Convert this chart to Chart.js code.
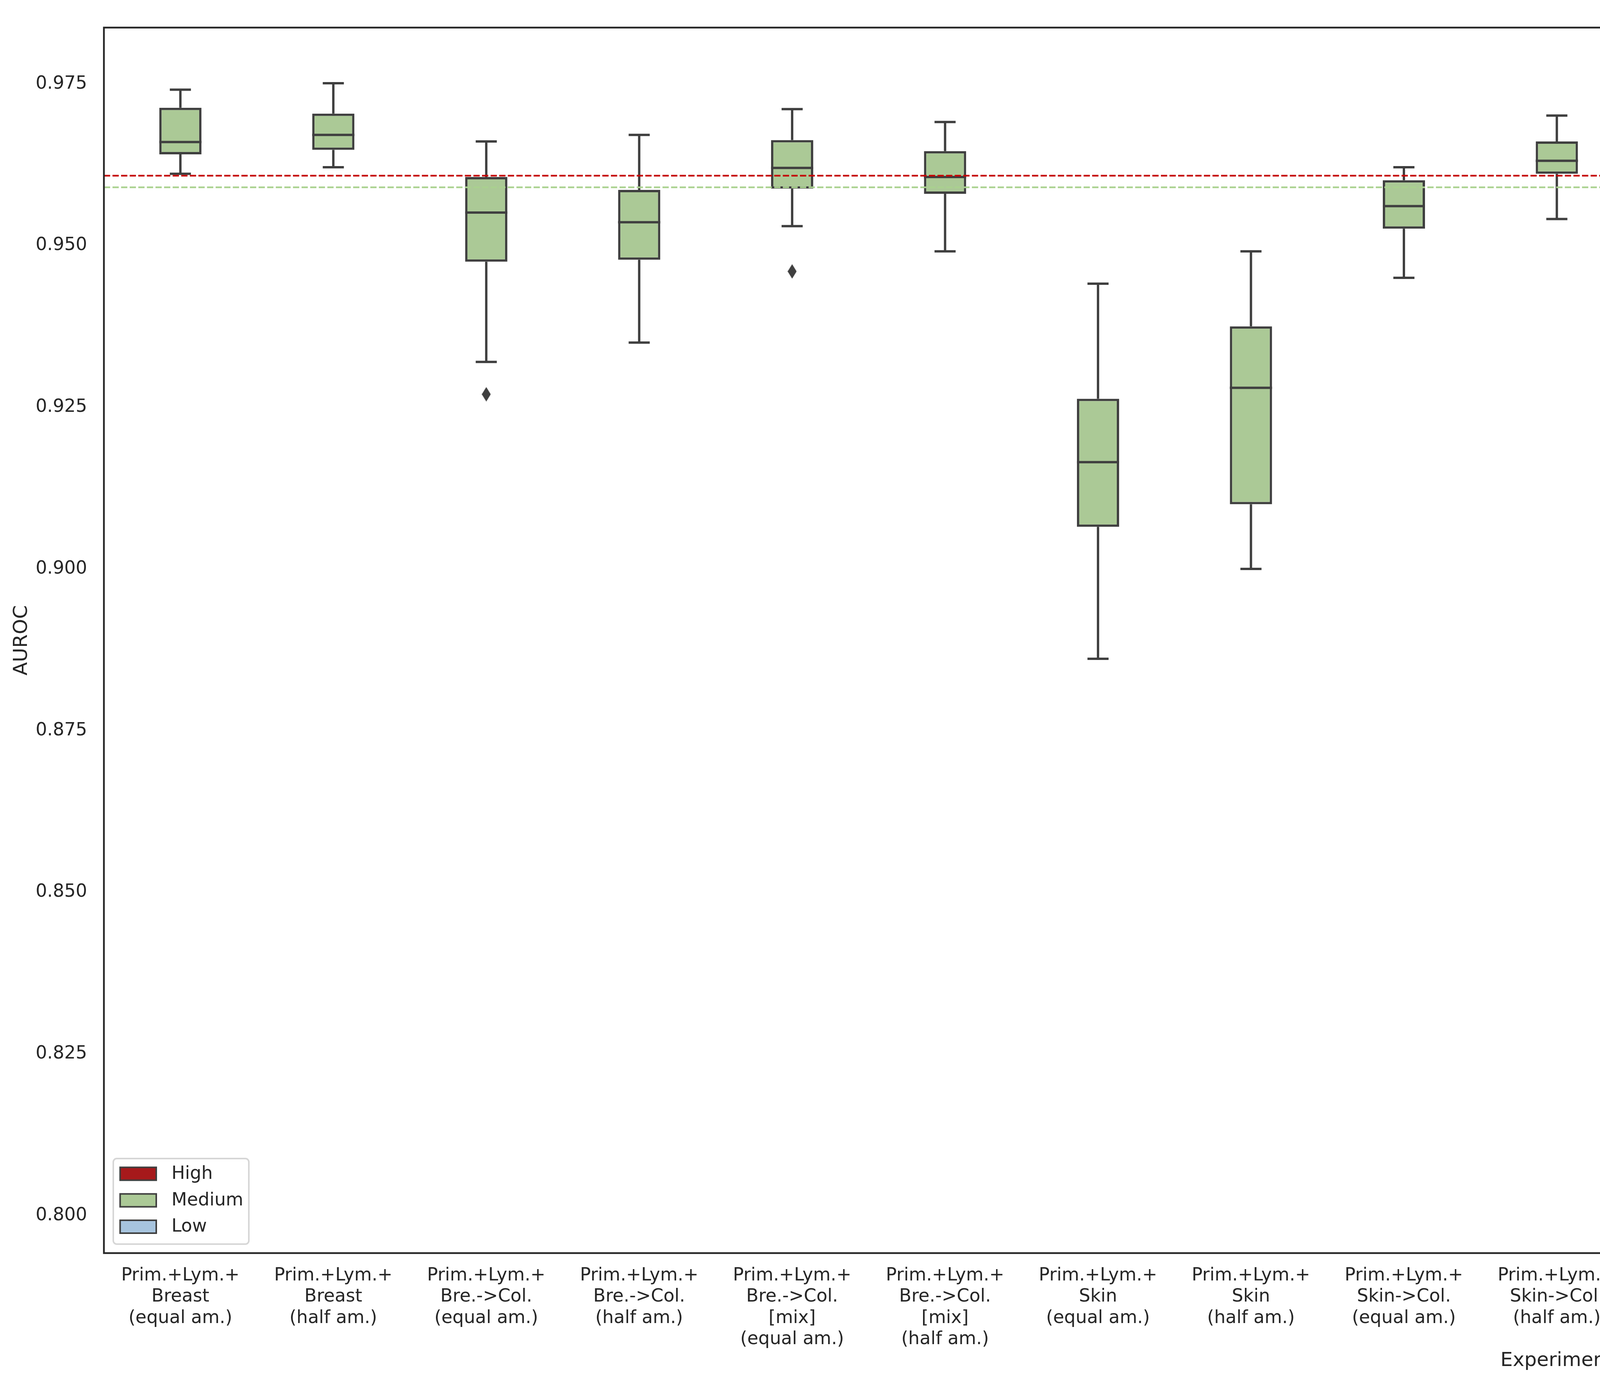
<!DOCTYPE html>
<html>
<head>
<meta charset="utf-8">
<script src="https://cdn.jsdelivr.net/npm/chart.js@4.4.0/dist/chart.umd.min.js"></script>
<style>
  html, body { margin: 0; padding: 0; background: #ffffff; }
  canvas { display: block; }
</style>
</head>
<body>
<canvas id="chart" width="7741" height="3542"></canvas>
<script>
// experiments on the x axis (multi-line labels)
const categories = [
  ["Prim.+Lym.+", "Breast", "(equal am.)"],
  ["Prim.+Lym.+", "Breast", "(half am.)"],
  ["Prim.+Lym.+", "Bre.->Col.", "(equal am.)"],
  ["Prim.+Lym.+", "Bre.->Col.", "(half am.)"],
  ["Prim.+Lym.+", "Bre.->Col.", "[mix]", "(equal am.)"],
  ["Prim.+Lym.+", "Bre.->Col.", "[mix]", "(half am.)"],
  ["Prim.+Lym.+", "Skin", "(equal am.)"],
  ["Prim.+Lym.+", "Skin", "(half am.)"],
  ["Prim.+Lym.+", "Skin->Col.", "(equal am.)"],
  ["Prim.+Lym.+", "Skin->Col.", "(half am.)"],
  ["Prim.+Lym.+", "Skin->Col.", "[mix]", "(equal am.)"],
  ["Prim.+Lym.+", "Skin->Col.", "[mix]", "(half am.)"],
  ["Prim.+Lym.+", "Prim.->Lym."],
  ["Prim.+Lym.+", "Prim.->Lym.", "(Breast", "non-tumor)"],
  ["Prim.+Lym.+", "Prim.->Lym.", "(Bre.->Col.", "non-tumor)"],
  ["Prim.+Lym.+", "Prim.->Lym.", "(Skin", "non-tumor)"],
  ["Prim.+Lym.+", "Prim.->Lym.", "(Skin->Col.", "non-tumor)"],
  ["Prim.->Lym.+", "Lymph"],
  ["Prim.->Lym."]
];

// box statistics (Medium)
const whiskerLow  = [0.9611, 0.9621, 0.9320, 0.9350, 0.9530, 0.9491, 0.8861, 0.9000, 0.9450, 0.9541, 0.8029, 0.8289, 0.9490, 0.9490, 0.9561, 0.8880, 0.9551, 0.9521, 0.9481];
const q1          = [0.9641, 0.9648, 0.9475, 0.9478, 0.9588, 0.9580, 0.9065, 0.9100, 0.9526, 0.9611, 0.8269, 0.8613, 0.9605, 0.9595, 0.9631, 0.9161, 0.9576, 0.9601, 0.9538];
const median      = [0.9660, 0.9671, 0.9551, 0.9536, 0.9620, 0.9606, 0.9165, 0.9280, 0.9561, 0.9631, 0.8405, 0.8801, 0.9651, 0.9651, 0.9660, 0.9271, 0.9621, 0.9651, 0.9611];
const q3          = [0.9713, 0.9704, 0.9606, 0.9586, 0.9663, 0.9646, 0.9263, 0.9375, 0.9601, 0.9661, 0.8709, 0.9033, 0.9684, 0.9671, 0.9684, 0.9396, 0.9661, 0.9684, 0.9651];
const whiskerHigh = [0.9741, 0.9751, 0.9661, 0.9671, 0.9711, 0.9691, 0.9441, 0.9491, 0.9621, 0.9701, 0.9030, 0.9200, 0.9701, 0.9711, 0.9691, 0.9660, 0.9691, 0.9731, 0.9691];

// fliers
const outlierCategory = [2, 4, 12, 14, 15];
const outlierValues   = [0.927, 0.946, 0.945, 0.954, 0.836];

// dashed reference lines
const refHigh = 0.9608;
const refMedium = 0.9590;

const yTicks = [0.800, 0.825, 0.850, 0.875, 0.900, 0.925, 0.950, 0.975];
const yMin = 0.7942;
const yMax = 0.9837;

const legendLabels = ["High", "Medium", "Low"];
const hueColors = ["#a6191b", "#abc996", "#a7c4de"];
const lineColor = "#3f3f3f";
const textColor = "#262626";

Chart.defaults.font.family = "DejaVu Sans";
Chart.defaults.color = textColor;

// thin diamond marker for fliers
const diamond = document.createElement("canvas");
diamond.width = 23;
diamond.height = 37;
const dctx = diamond.getContext("2d");
dctx.fillStyle = lineColor;
dctx.beginPath();
dctx.moveTo(11.5, 0);
dctx.lineTo(23, 18.5);
dctx.lineTo(11.5, 37);
dctx.lineTo(0, 18.5);
dctx.closePath();
dctx.fill();

// whiskers, caps, medians and the dashed lines
const boxExtras = {
  id: "boxExtras",
  afterDatasetsDraw(chart) {
    const { ctx, chartArea } = chart;
    const y = chart.scales.y;
    const meta = chart.getDatasetMeta(1);
    ctx.save();
    ctx.strokeStyle = lineColor;
    ctx.lineWidth = 6;
    ctx.lineCap = "butt";
    meta.data.forEach((bar, i) => {
      const x = bar.x;
      const half = bar.width / 2;
      const cap = bar.width / 4;
      const yLo = y.getPixelForValue(whiskerLow[i]);
      const yHi = y.getPixelForValue(whiskerHigh[i]);
      const yQ1 = y.getPixelForValue(q1[i]);
      const yQ3 = y.getPixelForValue(q3[i]);
      const yMed = y.getPixelForValue(median[i]);
      ctx.beginPath();
      ctx.moveTo(x, yQ1); ctx.lineTo(x, yLo);
      ctx.moveTo(x, yQ3); ctx.lineTo(x, yHi);
      ctx.moveTo(x - cap, yLo); ctx.lineTo(x + cap, yLo);
      ctx.moveTo(x - cap, yHi); ctx.lineTo(x + cap, yHi);
      ctx.moveTo(x - half, yMed); ctx.lineTo(x + half, yMed);
      ctx.stroke();
    });

    ctx.lineWidth = 4.3;
    ctx.setLineDash([16, 6]);
    [[refHigh, "#c40000"], [refMedium, "#a9d18e"]].forEach(([v, c]) => {
      const py = y.getPixelForValue(v);
      ctx.strokeStyle = c;
      ctx.beginPath();
      ctx.moveTo(chartArea.left, py);
      ctx.lineTo(chartArea.right, py);
      ctx.stroke();
    });
    ctx.restore();
  },
  afterDraw(chart) {
    const { ctx, chartArea } = chart;
    ctx.save();
    // axes frame
    ctx.strokeStyle = textColor;
    ctx.lineWidth = 4.5;
    ctx.strokeRect(chartArea.left, chartArea.top, chartArea.right - chartArea.left, chartArea.bottom - chartArea.top);

    // legend, lower left inside the axes
    const lx = chartArea.left + 24;
    const ly = chartArea.bottom - 242;
    const lw = 347, lh = 219;
    ctx.beginPath();
    ctx.roundRect(lx, ly, lw, lh, 9);
    ctx.fillStyle = "rgba(255,255,255,0.8)";
    ctx.fill();
    ctx.strokeStyle = "#d6d6d6";
    ctx.lineWidth = 4;
    ctx.stroke();

    const rows = [203, 135, 67.5];
    ctx.font = "46px 'DejaVu Sans'";
    ctx.textBaseline = "middle";
    ctx.textAlign = "left";
    chart.data.datasets.slice(0, 3).forEach((ds, i) => {
      const cy = chartArea.bottom - rows[i];
      ctx.fillStyle = ds.backgroundColor;
      ctx.fillRect(chartArea.left + 41.5, cy - 16.5, 92.5, 33);
      ctx.strokeStyle = lineColor;
      ctx.lineWidth = 4;
      ctx.strokeRect(chartArea.left + 41.5, cy - 16.5, 92.5, 33);
      ctx.fillStyle = textColor;
      ctx.fillText(ds.label, chartArea.left + 173, cy + 1);
    });
    ctx.restore();
  }
};

const boxes = q1.map((v, i) => [v, q3[i]]);
const empty = categories.map(() => null);
// category scale finds the label by reference
const fliers = outlierCategory.map((c, i) => ({ x: categories[c], y: outlierValues[i] }));

new Chart(document.getElementById("chart"), {
  type: "bar",
  data: {
    labels: categories,
    datasets: [
      { label: legendLabels[0], data: empty, backgroundColor: hueColors[0] },
      {
        label: legendLabels[1],
        data: boxes,
        backgroundColor: hueColors[1],
        borderColor: lineColor,
        borderWidth: 6,
        borderSkipped: false
      },
      { label: legendLabels[2], data: empty, backgroundColor: hueColors[2] },
      {
        type: "line",
        label: "fliers",
        data: fliers,
        showLine: false,
        pointStyle: diamond,
        pointRadius: 12,
        backgroundColor: lineColor,
        borderColor: lineColor
      }
    ]
  },
  options: {
    responsive: false,
    devicePixelRatio: 1,
    animation: false,
    categoryPercentage: 0.828,
    barPercentage: 1,
    layout: { padding: { left: 0, top: 36, right: 36, bottom: 0 } },
    plugins: {
      legend: { display: false },
      tooltip: { enabled: false }
    },
    scales: {
      x: {
        grid: { display: false, drawTicks: false },
        border: { display: false },
        ticks: {
          autoSkip: false,
          maxRotation: 0,
          minRotation: 0,
          padding: 31,
          color: textColor,
          font: { size: 46, lineHeight: 1.18 }
        },
        title: {
          display: true,
          text: "Experiment",
          color: textColor,
          font: { size: 50 },
          padding: { top: 0, bottom: 29 }
        },
        afterFit(scale) { scale.height = 335; }
      },
      y: {
        min: yMin,
        max: yMax,
        grid: { display: false, drawTicks: false },
        border: { display: false },
        ticks: {
          padding: 43,
          color: textColor,
          font: { size: 46 },
          callback: (v) => Number(v).toFixed(3)
        },
        afterBuildTicks(scale) { scale.ticks = yTicks.map((v) => ({ value: v })); },
        title: {
          display: true,
          text: "AUROC",
          color: textColor,
          font: { size: 50 },
          padding: { top: 26, bottom: 0 }
        },
        afterFit(scale) { scale.width = 266; }
      }
    }
  },
  plugins: [boxExtras]
});
</script>
</body>
</html>
